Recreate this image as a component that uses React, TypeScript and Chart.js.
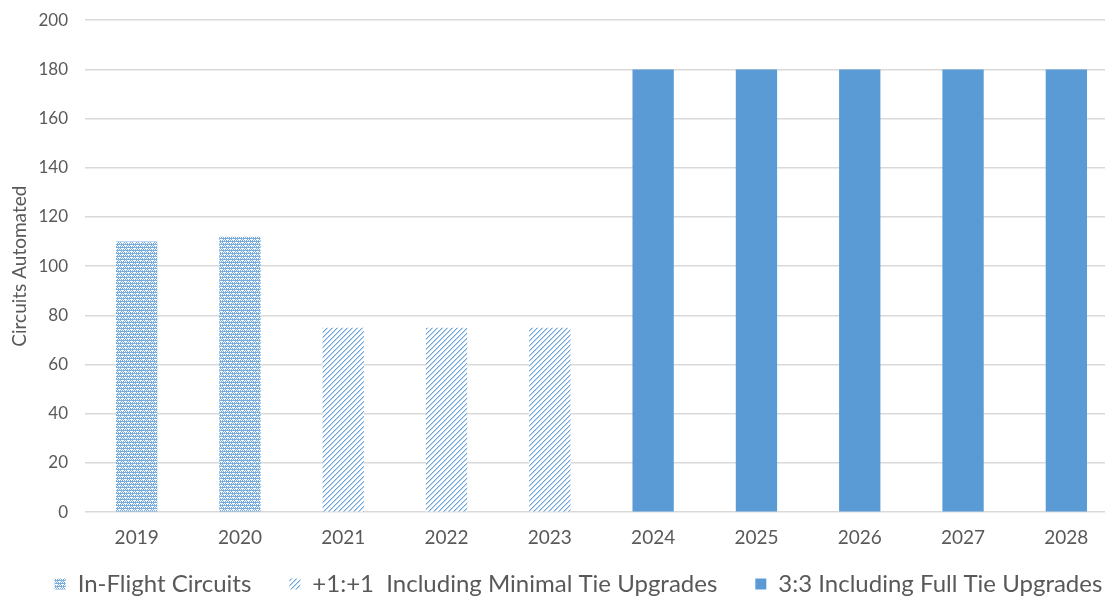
import React, { useEffect, useRef } from "react";
import { Chart, registerables } from "chart.js";

Chart.register(...registerables);

const categories = ["2019", "2020", "2021", "2022", "2023", "2024", "2025", "2026", "2027", "2028"];
const inFlight = [110, 112, null, null, null, null, null, null, null, null];
const minimalTie = [null, null, 75, 75, 75, null, null, null, null, null];
const fullTie = [null, null, null, null, null, 180, 180, 180, 180, 180];
const seriesNames = ["In-Flight Circuits", "+1:+1  Including Minimal Tie Upgrades", "3:3 Including Full Tie Upgrades"];
const yTicks = [0, 20, 40, 60, 80, 100, 120, 140, 160, 180, 200];

const BLUE = "#5B9BD5";
const TEXT = "#595959";
const FONT = "Lato, 'Liberation Sans', sans-serif";

function makeGridPattern(): CanvasPattern | string {
  const c = document.createElement("canvas");
  c.width = 6;
  c.height = 6;
  const g = c.getContext("2d");
  if (!g) return BLUE;
  g.fillStyle = "#ffffff";
  g.fillRect(0, 0, 6, 6);
  g.fillStyle = "#78acde";
  for (let y = 0; y < 6; y++) {
    for (let x = 0; x < 6; x++) {
      if ((x + y) % 2 === 0 || y % 3 === 1) g.fillRect(x, y, 1, 1);
    }
  }
  g.fillStyle = "#ffffff";
  g.fillRect(2, 2, 1, 1);
  g.fillRect(5, 5, 1, 1);
  return g.createPattern(c, "repeat") || BLUE;
}

function makeDiagPattern(): CanvasPattern | string {
  const c = document.createElement("canvas");
  c.width = 5;
  c.height = 5;
  const g = c.getContext("2d");
  if (!g) return BLUE;
  g.fillStyle = "#ffffff";
  g.fillRect(0, 0, 5, 5);
  g.fillStyle = "#6fa6da";
  for (let i = 0; i < 5; i++) {
    g.fillRect(i, 4 - i, 1, 1);
  }
  g.fillStyle = "#b9d4ef";
  for (let i = 0; i < 5; i++) {
    g.fillRect((i + 1) % 5, 4 - i, 1, 1);
  }
  return g.createPattern(c, "repeat") || BLUE;
}

const legendShift = {
  id: "legendShift",
  afterLayout(chart: any) {
    const lg = chart.legend;
    if (lg) {
      lg.top -= 21;
      lg.bottom -= 21;
    }
  },
};

export default function App() {
  const ref = useRef<HTMLCanvasElement>(null);
  useEffect(() => {
    if (!ref.current) return;
    const chart = new Chart(ref.current, {
      type: "bar",
      data: {
        labels: categories,
        datasets: [
          { label: seriesNames[0], data: inFlight, backgroundColor: makeGridPattern() },
          { label: seriesNames[1], data: minimalTie, backgroundColor: makeDiagPattern() },
          { label: seriesNames[2], data: fullTie, backgroundColor: BLUE },
        ],
      },
      plugins: [legendShift],
      options: {
        responsive: false,
        animation: false,
        layout: { padding: { left: 8, right: 26, top: 2, bottom: -31 } },
        datasets: { bar: { categoryPercentage: 0.5, barPercentage: 0.8 } },
        plugins: {
          legend: {
            position: "bottom",
            labels: {
              color: TEXT,
              font: { family: FONT, size: 24 },
              boxWidth: 11,
              boxHeight: 11,
              padding: 38,
            },
          },
          tooltip: { enabled: false },
        },
        scales: {
          x: {
            stacked: true,
            grid: { display: false },
            border: { display: false },
            ticks: { color: TEXT, font: { family: FONT, size: 19 }, padding: 6 },
          },
          y: {
            stacked: true,
            min: 0,
            max: 200,
            afterBuildTicks: (axis: any) => {
              axis.ticks = yTicks.map((v) => ({ value: v }));
            },
            afterFit: (axis: any) => {
              axis.width = 77;
            },
            grid: {
              color: "#d9d9d9",
              lineWidth: 1.5,
              drawTicks: true,
              tickLength: 7,
              tickColor: "rgba(0,0,0,0)",
            },
            border: { display: false },
            ticks: { color: TEXT, font: { family: FONT, size: 17 }, padding: 10 },
            title: {
              display: true,
              text: "Circuits Automated",
              color: TEXT,
              font: { family: FONT, size: 19 },
              padding: { top: 0, bottom: 0 },
            },
          },
          yRight: {
            position: "right",
            display: true,
            grid: { display: false },
            border: { display: false },
            ticks: { display: false },
            afterFit: (axis: any) => {
              axis.width = 31;
            },
          },
        },
      },
    });
    return () => chart.destroy();
  }, []);
  return (
    <div style={{ position: "fixed", left: 0, top: 0, width: 1105, height: 596, overflow: "hidden", background: "#fff" }}>
      <canvas ref={ref} width={1175} height={596} style={{ display: "block" }} />
    </div>
  );
}
